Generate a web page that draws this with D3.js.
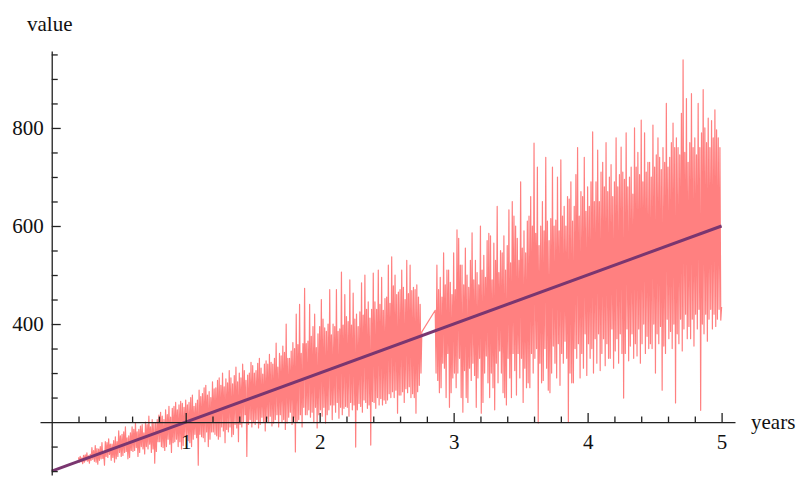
<!DOCTYPE html>
<html>
<head>
<meta charset="utf-8">
<script src="https://cdn.jsdelivr.net/npm/d3@7"></script>
<style>
  body { margin: 0; background: #fff; }
  svg text { font-family: "Liberation Serif", "DejaVu Serif", serif; }
</style>
</head>
<body>
<svg id="chart" width="801" height="477"></svg>
<script>
// Sampling grid of the measured series (years)
const sampleStep = 0.00625;
const firstRunStart = 0.2;
const secondRunStart = 2.8625;

// Measured values, first run (0.2 – 2.7625 years), 16 samples per row
const firstRunValues = [
  128, 118, 130, 119, 127, 115, 132, 118, 133, 121, 137, 120, 131, 116, 134, 122,
  148, 124, 142, 120, 152, 118, 146, 114, 145, 122, 150, 125, 158, 126, 140, 112,
  160, 130, 158, 128, 166, 134, 155, 122, 155, 128, 162, 118, 170, 125, 160, 130,
  182, 138, 172, 130, 175, 132, 180, 138, 190, 140, 168, 125, 172, 128, 178, 142,
  190, 140, 185, 142, 198, 148, 180, 130, 185, 138, 192, 150, 195, 145, 178, 135,
  200, 150, 195, 145, 212, 155, 190, 138, 205, 145, 198, 116, 198, 140, 205, 160,
  214, 160, 220, 150, 212, 148, 205, 142, 225, 150, 215, 165, 232, 155, 210, 138,
  228, 158, 232, 160, 240, 165, 225, 150, 235, 160, 242, 145, 238, 152, 230, 170,
  245, 170, 235, 162, 240, 158, 250, 150, 255, 165, 232, 175, 238, 168, 245, 112,
  265, 175, 252, 170, 258, 168, 270, 160, 275, 180, 255, 150, 262, 165, 250, 180,
  282, 180, 268, 175, 270, 172, 285, 165, 290, 170, 275, 190, 300, 182, 272, 158,
  288, 185, 280, 180, 305, 190, 290, 170, 278, 175, 295, 195, 312, 188, 282, 160,
  300, 195, 290, 190, 318, 200, 305, 215, 285, 130, 296, 195, 300, 205, 322, 190,
  315, 200, 300, 195, 305, 205, 320, 188, 330, 195, 310, 210, 298, 200, 318, 182,
  325, 208, 318, 200, 338, 212, 322, 192, 318, 198, 330, 205, 361, 215, 312, 190,
  340, 215, 335, 200, 355, 205, 342, 185, 400, 198, 330, 210, 330, 220, 345, 195,
  362, 210, 350, 139, 420, 200, 358, 205, 440, 215, 340, 190, 360, 230, 473, 215,
  360, 215, 365, 225, 440, 210, 375, 220, 395, 200, 420, 230, 352, 188, 380, 215,
  395, 225, 450, 212, 410, 230, 392, 198, 385, 215, 400, 225, 470, 235, 378, 205,
  400, 235, 395, 220, 470, 240, 385, 208, 390, 230, 506, 215, 398, 228, 460, 232,
  415, 230, 405, 212, 490, 240, 398, 225, 463, 235, 410, 149, 420, 225, 395, 238,
  425, 232, 484, 220, 418, 245, 500, 240, 430, 228, 445, 235, 412, 153, 430, 242,
  504, 240, 445, 228, 430, 250, 510, 235, 440, 248, 495, 235, 428, 245, 452, 238,
  455, 245, 520, 258, 442, 250, 537, 262, 478, 250, 500, 265, 460, 218, 465, 255,
  470, 255, 510, 262, 475, 240, 450, 268, 530, 260, 462, 272, 520, 250, 468, 258,
  475, 250, 470, 218, 480, 262, 455, 275, 440, 300, 384
];

// Measured values, second run (2.8625 – 5 years), 16 samples per row
const secondRunValues = [
  428, 300, 520, 285, 470, 260, 495, 270, 455, 320, 545, 310, 480, 250, 510, 340,
  510, 230, 485, 260, 460, 290, 545, 300, 470, 270, 592, 300, 575, 330, 520, 250,
  520, 220, 480, 305, 555, 250, 500, 240, 475, 310, 530, 285, 586, 320, 490, 295,
  530, 230, 505, 290, 480, 330, 600, 218, 510, 240, 540, 300, 495, 335, 570, 280,
  585, 250, 580, 300, 490, 270, 565, 225, 530, 320, 640, 280, 505, 345, 550, 300,
  545, 260, 580, 250, 510, 235, 560, 330, 633, 290, 525, 250, 650, 340, 620, 305,
  600, 255, 575, 340, 530, 290, 690, 330, 555, 240, 590, 310, 545, 270, 610, 280,
  620, 270, 660, 340, 600, 300, 769, 330, 585, 350, 720, 198, 560, 320, 600, 280,
  650, 285, 590, 350, 740, 310, 610, 265, 570, 260, 615, 300, 720, 355, 600, 320,
  612, 290, 700, 360, 590, 275, 735, 340, 620, 320, 640, 365, 600, 330, 660, 200,
  655, 300, 690, 280, 610, 280, 640, 350, 705, 330, 760, 360, 620, 290, 670, 340,
  660, 310, 740, 380, 630, 295, 680, 360, 640, 330, 690, 350, 792, 300, 650, 370,
  690, 320, 755, 380, 650, 305, 710, 340, 730, 370, 680, 315, 770, 360, 670, 330,
  700, 330, 725, 390, 660, 310, 690, 345, 780, 370, 680, 320, 705, 380, 761, 340,
  710, 249, 695, 340, 790, 390, 680, 325, 700, 355, 720, 380, 665, 330, 800, 360,
  720, 335, 750, 390, 705, 320, 816, 360, 690, 400, 790, 340, 710, 375, 730, 350,
  730, 360, 700, 350, 806, 400, 720, 300, 745, 380, 780, 360, 740, 395, 715, 265,
  760, 355, 730, 340, 850, 410, 720, 370, 740, 385, 770, 350, 810, 400, 760, 239,
  780, 380, 760, 360, 745, 410, 830, 345, 939, 390, 750, 420, 860, 370, 730, 395,
  770, 370, 870, 410, 760, 355, 780, 420, 745, 390, 850, 430, 760, 224, 790, 400,
  878, 380, 800, 420, 770, 365, 820, 410, 760, 430, 815, 390, 780, 420, 837, 395,
  796, 410, 780, 430, 760, 408, 435
];

// Linear trend
const trendYears = [0, 5];
const trendValues = [100, 600];

// Axis ticks
const xMajorTicks = [1, 2, 3, 4, 5];
const xMinorTicks = [0.2, 0.4, 0.6, 0.8, 1.2, 1.4, 1.6, 1.8, 2.2, 2.4, 2.6, 2.8,
                     3.2, 3.4, 3.6, 3.8, 4.2, 4.4, 4.6, 4.8];
const yMajorTicks = [400, 600, 800];
const yMinorTicks = [100, 150, 250, 300, 350, 450, 500, 550, 650, 700, 750, 850, 900, 950];
const xAxisTitle = "years";
const yAxisTitle = "value";

const series = [
  ...firstRunValues.map((v, i) => ({ t: firstRunStart + i * sampleStep, v })),
  ...secondRunValues.map((v, i) => ({ t: secondRunStart + i * sampleStep, v }))
];
const trend = trendYears.map((t, i) => ({ t, v: trendValues[i] }));

const svg = d3.select("#chart");

const x = d3.scaleLinear().domain([-0.0875, 5.1]).range([40, 735]);
const y = d3.scaleLinear().domain([92, 957]).range([475, 51]);

const line = d3.line().x(d => x(d.t)).y(d => y(d.v));

// Series
svg.append("path")
  .datum(series)
  .attr("fill", "none")
  .attr("stroke", "#ff8080")
  .attr("stroke-width", 1.2)
  .attr("stroke-linejoin", "round")
  .attr("d", line);

// Trend line
svg.append("path")
  .datum(trend)
  .attr("fill", "none")
  .attr("stroke", "#7a3670")
  .attr("stroke-width", 3)
  .attr("d", line);

const axisColor = "#222";
const fontSize = 21;

// X axis crossing at value 200
const xAxisG = svg.append("g").attr("transform", `translate(0,${y(200)})`);
xAxisG.append("g")
  .call(d3.axisBottom(x).tickValues(xMinorTicks).tickSize(-5.5).tickFormat("").tickSizeOuter(0))
  .call(g => g.select(".domain").remove());
xAxisG.append("g")
  .call(d3.axisBottom(x).tickValues(xMajorTicks).tickSize(-9).tickSizeOuter(0).tickPadding(12).tickFormat(d3.format("d")));

// Y axis at year 0
const yAxisG = svg.append("g").attr("transform", `translate(${x(0)},0)`);
yAxisG.append("g")
  .call(d3.axisLeft(y).tickValues(yMinorTicks).tickSize(-6).tickFormat("").tickSizeOuter(0))
  .call(g => g.select(".domain").remove());
yAxisG.append("g")
  .call(d3.axisLeft(y).tickValues(yMajorTicks).tickSize(-9).tickSizeOuter(0).tickPadding(8).tickFormat(d3.format("d")));

svg.selectAll(".domain").attr("stroke", axisColor).attr("stroke-width", 1.3);
svg.selectAll(".tick line").attr("stroke", axisColor).attr("stroke-width", 1.3);
svg.selectAll(".tick text")
  .attr("fill", "#111")
  .style("font-size", fontSize + "px")
  .style("font-family", "'Liberation Serif', 'DejaVu Serif', serif");

// Axis titles
svg.append("text")
  .attr("x", 27).attr("y", 31)
  .attr("fill", "#111")
  .style("font-size", fontSize + "px")
  .text(yAxisTitle);
svg.append("text")
  .attr("x", 751).attr("y", 429)
  .attr("fill", "#111")
  .style("font-size", fontSize + "px")
  .text(xAxisTitle);
</script>
</body>
</html>
